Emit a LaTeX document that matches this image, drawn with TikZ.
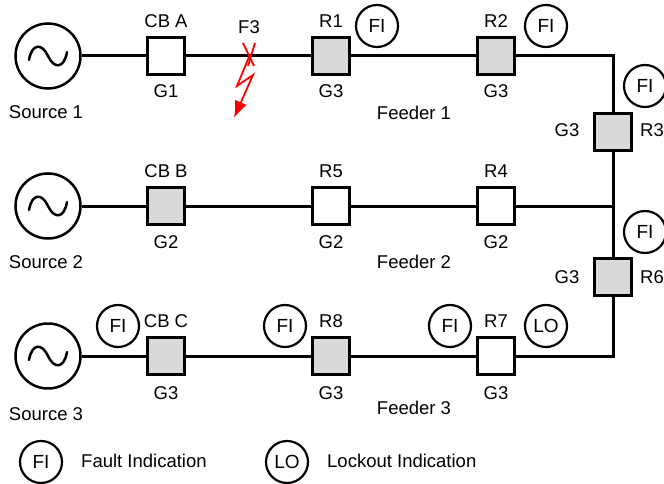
\documentclass[tikz,border=0pt]{standalone}
\usepackage{fontspec}
\setmainfont{Liberation Sans}
\usetikzlibrary{arrows.meta}
\definecolor{gfill}{gray}{0.85}
\tikzset{
  x=1pt,y=-1pt,
  wire/.style={line width=3pt},
  sw/.style={draw=black,line width=3pt,minimum size=37.5pt,inner sep=0pt,fill=white},
  swg/.style={sw,fill=gfill},
  src/.style={draw=black,line width=2.5pt,circle,minimum size=65pt,inner sep=0pt,fill=white},
  ind/.style={draw=black,line width=2.2pt,circle,minimum size=42pt,inner sep=0pt,fill=white,font=\fontsize{19}{20}\selectfont},
  lbl/.style={anchor=base,inner sep=0pt,font=\fontsize{18.5}{20}\selectfont},
  fault/.style={red,line width=1.8pt},
}
\newcommand{\sinewave}[1]{%
  \begin{scope}[shift={(#1.center)}]
  \draw[line width=2.5pt,line cap=round] (-19,4)
    .. controls (-16,-13) and (-6,-13) .. (0,0)
    .. controls (6,13) and (16,13) .. (19,-4);
  \end{scope}}
\begin{document}
\begin{tikzpicture}
\useasboundingbox (0,0) rectangle (664,484);
% sources
\node[src] (s1) at (48,56) {};
\node[src] (s2) at (48,206) {};
\node[src] (s3) at (48,356) {};
% switches
\node[sw]  (cba) at (166,56) {};
\node[swg] (r1)  at (331,56) {};
\node[swg] (r2)  at (496,56) {};
\node[swg] (r3)  at (613,132) {};
\node[swg] (cbb) at (166,206) {};
\node[sw]  (r5)  at (331,206) {};
\node[sw]  (r4)  at (496,206) {};
\node[swg] (r6)  at (613,277) {};
\node[swg] (cbc) at (166,356) {};
\node[swg] (r8)  at (331,356) {};
\node[sw]  (r7)  at (496,356) {};
\coordinate (c1) at (613,56);
\coordinate (c2) at (613,206);
\coordinate (c3) at (613,356);
% connectors
\draw[wire] (s1) -- (cba);
\draw[wire] (cba) -- (r1);
\draw[wire] (r1) -- (r2);
\draw[wire] (r2) -- (c1) -- (r3);
\draw[wire] (r3) -- (c2);
\draw[wire] (s2) -- (cbb);
\draw[wire] (cbb) -- (r5);
\draw[wire] (r5) -- (r4);
\draw[wire] (r4) -- (c2);
\draw[wire] (c2) -- (r6);
\draw[wire] (s3) -- (cbc);
\draw[wire] (cbc) -- (r8);
\draw[wire] (r8) -- (r7);
\draw[wire] (r7) -- (c3) -- (r6);
% sine waves
\sinewave{s1}\sinewave{s2}\sinewave{s3}
% indicators
\node[ind] (fi1) at (377,26) {FI};
\node[ind] (fi2) at (546,26) {FI};
\node[ind] (fi3) at (645,86) {FI};
\node[ind] (fi6) at (645,232) {FI};
\node[ind] (lo7) at (546,326) {LO};
\node[ind] (fi7) at (450,326) {FI};
\node[ind] (fi8) at (285,326) {FI};
\node[ind] (fic) at (118,326) {FI};
\node[ind] (lfi) at (41,462) {FI};
\node[ind] (llo) at (287,462) {LO};
% labels
\node[lbl] (t1) at (166,28) {CB A};
\node[lbl] (t2) at (166,98) {G1};
\node[lbl] (t3) at (46,119) {Source 1};
\node[lbl] (t4) at (249,34) {F3};
\node[lbl] (t5) at (331,28) {R1};
\node[lbl] (t6) at (331,98) {G3};
\node[lbl] (t7) at (496,28) {R2};
\node[lbl] (t8) at (496,98) {G3};
\node[lbl] (t9) at (414,120) {Feeder 1};
\node[lbl] (t10) at (567,137) {G3};
\node[lbl,anchor=base east] (t11) at (664,137) {R3};
\node[lbl] (t12) at (166,177) {CB B};
\node[lbl] (t13) at (166,248) {G2};
\node[lbl] (t14) at (46,268) {Source 2};
\node[lbl] (t15) at (331,177) {R5};
\node[lbl] (t16) at (331,248) {G2};
\node[lbl] (t17) at (496,177) {R4};
\node[lbl] (t18) at (496,248) {G2};
\node[lbl] (t19) at (414,268) {Feeder 2};
\node[lbl] (t20) at (567,283) {G3};
\node[lbl,anchor=base east] (t21) at (664,283) {R6};
\node[lbl] (t22) at (166,327) {CB C};
\node[lbl] (t23) at (166,399) {G3};
\node[lbl] (t24) at (46,420) {Source 3};
\node[lbl] (t25) at (331,327) {R8};
\node[lbl] (t26) at (331,399) {G3};
\node[lbl] (t27) at (496,327) {R7};
\node[lbl] (t28) at (496,399) {G3};
\node[lbl] (t29) at (414,414) {Feeder 3};
\node[lbl,anchor=base west] (t30) at (81,467) {Fault Indication};
\node[lbl,anchor=base west] (t31) at (327,467) {Lockout Indication};
% fault mark
\draw[fault] (243,43) -- (254,66);
\draw[fault] (255,43) -- (248,66);
\draw[fault,-{Latex[length=17pt,width=13pt]}] (249,57) -- (237,86) -- (253,75) -- (234,118);
\end{tikzpicture}
\end{document}
